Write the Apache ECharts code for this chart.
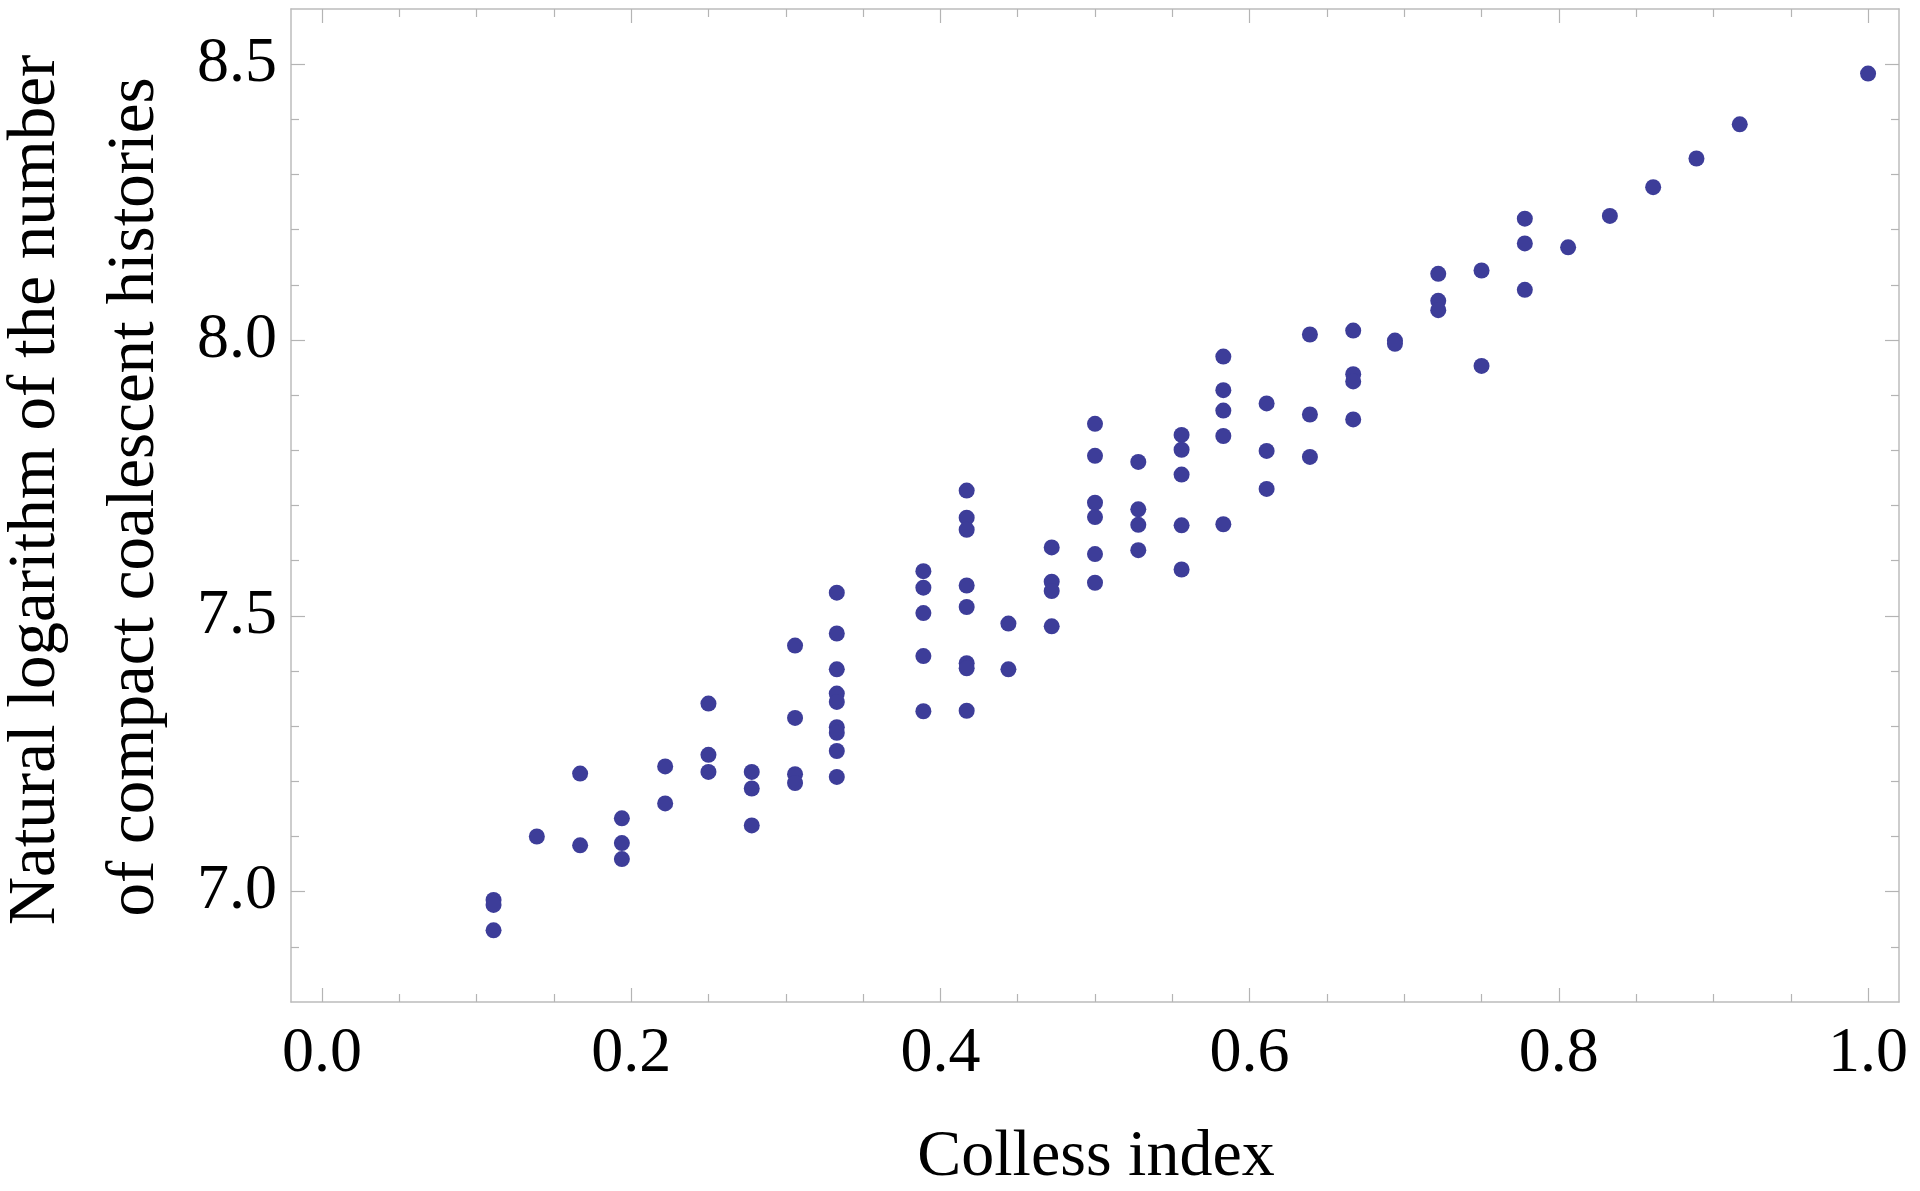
<!DOCTYPE html>
<html>
<head>
<meta charset="utf-8">
<script src="https://cdn.jsdelivr.net/npm/echarts@6/dist/echarts.min.js"></script>
<style>
html,body{margin:0;padding:0;background:#fff;}
#chart{width:1920px;height:1191px;}
</style>
</head>
<body>
<div id="chart"></div>
<script>
// Colless index (x) and natural log of number of compact coalescent histories (y)
const collessIndex = [
  0.111, 0.111, 0.111,
  0.139,
  0.167, 0.167,
  0.194, 0.194, 0.194,
  0.222, 0.222,
  0.250, 0.250, 0.250,
  0.278, 0.278, 0.278,
  0.306, 0.306, 0.306, 0.306,
  0.333, 0.333, 0.333, 0.333, 0.333, 0.333, 0.333, 0.333, 0.333,
  0.389, 0.389, 0.389, 0.389, 0.389,
  0.417, 0.417, 0.417, 0.417, 0.417, 0.417, 0.417, 0.417,
  0.444, 0.444,
  0.472, 0.472, 0.472, 0.472,
  0.500, 0.500, 0.500, 0.500, 0.500, 0.500,
  0.528, 0.528, 0.528, 0.528,
  0.556, 0.556, 0.556, 0.556, 0.556,
  0.583, 0.583, 0.583, 0.583, 0.583,
  0.611, 0.611, 0.611,
  0.639, 0.639, 0.639,
  0.667, 0.667, 0.667, 0.667,
  0.694, 0.694,
  0.722, 0.722, 0.722,
  0.750, 0.750,
  0.778, 0.778, 0.778,
  0.806,
  0.833,
  0.861,
  0.889,
  0.917,
  1.000
];
const logHistories = [
  6.985, 6.976, 6.930,
  7.100,
  7.214, 7.084,
  7.133, 7.088, 7.059,
  7.227, 7.160,
  7.341, 7.248, 7.217,
  7.217, 7.187, 7.120,
  7.446, 7.315, 7.213, 7.197,
  7.542, 7.468, 7.403, 7.359, 7.344, 7.298, 7.288, 7.255, 7.208,
  7.581, 7.551, 7.505, 7.427, 7.327,
  7.727, 7.678, 7.656, 7.555, 7.516, 7.414, 7.405, 7.328,
  7.486, 7.403,
  7.624, 7.562, 7.545, 7.481,
  7.848, 7.790, 7.705, 7.679, 7.612, 7.560,
  7.779, 7.693, 7.665, 7.619,
  7.828, 7.801, 7.756, 7.664, 7.584,
  7.970, 7.909, 7.872, 7.826, 7.666,
  7.885, 7.799, 7.730,
  8.010, 7.865, 7.788,
  8.017, 7.938, 7.925, 7.856,
  7.999, 7.993,
  8.120, 8.071, 8.054,
  8.126, 7.953,
  8.220, 8.175, 8.091,
  8.168,
  8.225,
  8.277,
  8.329,
  8.391,
  8.483
];

const xTickLabels = [0.0, 0.2, 0.4, 0.6, 0.8, 1.0];
const xMinorTicks = [0.05, 0.10, 0.15, 0.25, 0.30, 0.35, 0.45, 0.50, 0.55, 0.65, 0.70, 0.75, 0.85, 0.90, 0.95];
const yTickLabels = [7.0, 7.5, 8.0, 8.5];
const yMinorTicks = [6.9, 7.1, 7.2, 7.3, 7.4, 7.6, 7.7, 7.8, 7.9, 8.1, 8.2, 8.3, 8.4];

const xTitle = 'Colless index';
const yTitleLines = ['Natural logarithm of the number', 'of compact coalescent histories'];

const points = collessIndex.map((x, i) => [x, logHistories[i]]);

const FONT = '"Liberation Serif", "Times New Roman", serif';
const frameColor = '#bcbcbc';
const tickColor = '#b4b4b4';
const X_MIN = -0.02, X_MAX = 1.02, Y_MIN = 6.8, Y_MAX = 8.6;

function xAxisDef(position, ticks, len, showLine, showLabels) {
  return {
    type: 'value', position: position, min: X_MIN, max: X_MAX, gridIndex: 0,
    axisLine: { show: showLine, onZero: false, lineStyle: { color: frameColor, width: 1.5 } },
    axisTick: { show: true, inside: true, length: len, customValues: ticks, lineStyle: { color: tickColor, width: 1.2 } },
    axisLabel: {
      show: showLabels, customValues: ticks, margin: 20,
      fontFamily: FONT, fontSize: 64, color: '#000',
      formatter: v => v.toFixed(1)
    },
    splitLine: { show: false }
  };
}
function yAxisDef(position, ticks, len, showLine, showLabels) {
  return {
    type: 'value', position: position, min: Y_MIN, max: Y_MAX, gridIndex: 0,
    axisLine: { show: showLine, onZero: false, lineStyle: { color: frameColor, width: 1.5 } },
    axisTick: { show: true, inside: true, length: len, customValues: ticks, lineStyle: { color: tickColor, width: 1.2 } },
    axisLabel: {
      show: showLabels, customValues: ticks, margin: 14,
      fontFamily: FONT, fontSize: 64, color: '#000',
      formatter: v => v.toFixed(1)
    },
    splitLine: { show: false }
  };
}

const chart = echarts.init(document.getElementById('chart'), null, { renderer: 'canvas' });
chart.setOption({
  animation: false,
  backgroundColor: '#ffffff',
  grid: { left: 291, right: 21, top: 9, bottom: 189, containLabel: false },
  xAxis: [
    xAxisDef('bottom', xTickLabels, 14, true, true),
    xAxisDef('bottom', xMinorTicks, 8, false, false),
    xAxisDef('top', xTickLabels, 14, true, false),
    xAxisDef('top', xMinorTicks, 8, false, false)
  ],
  yAxis: [
    yAxisDef('left', yTickLabels, 14, true, true),
    yAxisDef('left', yMinorTicks, 8, false, false),
    yAxisDef('right', yTickLabels, 14, true, false),
    yAxisDef('right', yMinorTicks, 8, false, false)
  ],
  graphic: [
    {
      type: 'text', x: 1096, y: 1158,
      style: { text: xTitle, font: '66px ' + FONT, fill: '#000', textAlign: 'center', textVerticalAlign: 'middle' }
    },
    {
      type: 'text', x: 36, y: 490, rotation: Math.PI / 2,
      style: { text: yTitleLines[0], font: '67px ' + FONT, fill: '#000', textAlign: 'center', textVerticalAlign: 'middle' }
    },
    {
      type: 'text', x: 135, y: 497, rotation: Math.PI / 2,
      style: { text: yTitleLines[1], font: '67px ' + FONT, fill: '#000', textAlign: 'center', textVerticalAlign: 'middle' }
    }
  ],
  series: [{
    type: 'scatter',
    xAxisIndex: 0, yAxisIndex: 0,
    symbol: 'circle', symbolSize: 16,
    itemStyle: { color: '#3d3d99', opacity: 1 },
    data: points,
    emphasis: { disabled: true }
  }]
});
</script>
</body>
</html>
